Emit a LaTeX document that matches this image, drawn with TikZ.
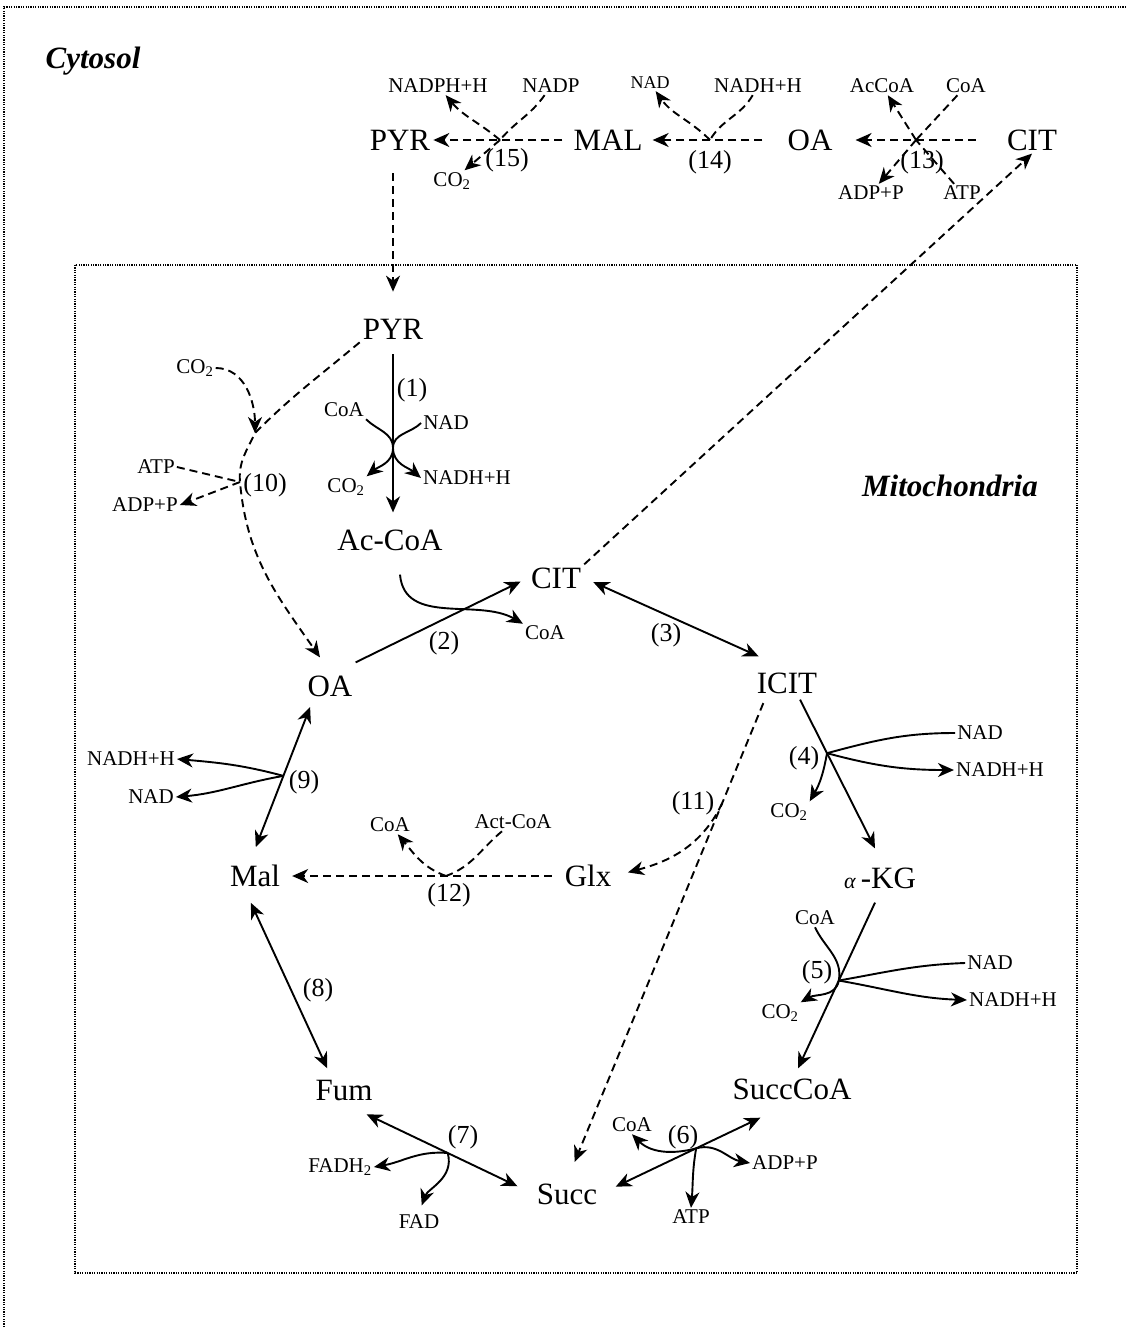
\documentclass[tikz,border=0pt]{standalone}
\usepackage{fontspec}
\setmainfont{Liberation Serif}
\usetikzlibrary{arrows.meta}
\newcommand{\metab}[3]{\node[met] (#1) at (#2) {#3};}
\newcommand{\cofac}[4][]{\node[cof,#1] (#2) at (#3) {#4};}
\newcommand{\rxn}[2]{\node[num] (n#1) at (#2) {(#1)};}
\begin{document}
\begin{tikzpicture}[x=1pt,y=-1pt,>={Stealth[length=16pt,width=14pt,inset=5pt]},
  met/.style={font=\fontsize{31}{31}\selectfont,inner sep=3pt},
  cof/.style={font=\fontsize{21}{21}\selectfont,inner sep=2pt},
  num/.style={font=\fontsize{26}{26}\selectfont,inner sep=1pt},
  ttl/.style={font=\fontsize{31}{31}\selectfont\bfseries\itshape,inner sep=0pt},
  sol/.style={line width=1.9pt},
  dsh/.style={line width=1.9pt,dash pattern=on 8pt off 5pt},
  box/.style={line width=1.2pt,dash pattern=on 1.2pt off 1.2pt}]
\useasboundingbox (0,0) rectangle (1127,1327);
\draw[box] (4,1327) -- (4,7) -- (1127,7);
\draw[box] (75,265) rectangle (1077,1273);
\node[ttl] (cyto) at (93,61) {Cytosol};
\node[ttl] (mito) at (950,486) {Mitochondria};
\metab{pyrc}{400,140}{PYR}
\metab{malc}{608,140}{MAL}
\metab{oac}{810,140}{OA}
\metab{citc}{1032,140}{CIT}
\metab{pyr}{393,329}{PYR}
\metab{acoa}{390,540}{Ac-CoA}
\metab{cit}{556,578}{CIT}
\metab{icit}{787,683}{ICIT}
\metab{akg}{880,878}{{\fontsize{22}{22}\selectfont\itshape α}\,-KG}
\metab{scoa}{792,1089}{SuccCoA}
\metab{succ}{567,1194}{Succ}
\metab{fum}{344,1090}{Fum}
\metab{mal}{255,876}{Mal}
\metab{oa}{330,686}{OA}
\metab{glx}{588,876}{Glx}
\cofac{nadph15}{438,86}{NADPH+H}
\cofac{nadp15}{551,86}{NADP}
\cofac{co215}{452,181}{CO\textsubscript{2}}
\cofac[font=\fontsize{18}{18}\selectfont]{nad14}{650,83}{NAD}
\cofac{nadh14}{758,86}{NADH+H}
\cofac{accoa13}{882,86}{AcCoA}
\cofac{coa13}{966,86}{CoA}
\cofac{adp13}{871,193}{ADP+P}
\cofac{atp13}{962,193}{ATP}
\cofac{co210}{195,368}{CO\textsubscript{2}}
\cofac{atp10}{156,467}{ATP}
\cofac{adp10}{145,505}{ADP+P}
\cofac{coa1}{344,410}{CoA}
\cofac{nad1}{446,423}{NAD}
\cofac{co21}{346,487}{CO\textsubscript{2}}
\cofac{nadh1}{467,478}{NADH+H}
\cofac{coa2}{545,633}{CoA}
\cofac{nad4}{980,733}{NAD}
\cofac{nadh4}{1000,770}{NADH+H}
\cofac{co24}{789,812}{CO\textsubscript{2}}
\cofac{coa5}{815,918}{CoA}
\cofac{nad5}{990,963}{NAD}
\cofac{nadh5}{1013,1000}{NADH+H}
\cofac{co25}{780,1013}{CO\textsubscript{2}}
\cofac{coa6}{632,1125}{CoA}
\cofac{adp6}{785,1163}{ADP+P}
\cofac{atp6}{691,1217}{ATP}
\cofac{fadh7}{340,1167}{FADH\textsubscript{2}}
\cofac{fad7}{419,1222}{FAD}
\cofac{nadh9}{131,759}{NADH+H}
\cofac{nad9}{151,797}{NAD}
\cofac{coa12}{390,825}{CoA}
\cofac{actcoa12}{513,822}{Act-CoA}
\rxn{1}{412,390}
\rxn{2}{444,643}
\rxn{3}{666,635}
\rxn{4}{804,758}
\rxn{5}{817,972}
\rxn{6}{683,1137}
\rxn{7}{463,1137}
\rxn{8}{318,990}
\rxn{9}{304,782}
\rxn{10}{265,485}
\rxn{11}{693,803}
\rxn{12}{449,895}
\rxn{13}{922,162}
\rxn{14}{710,162}
\rxn{15}{507,160}
\coordinate (j15) at (500,140);
\coordinate (j14) at (710,140);
\coordinate (j13) at (916,140);
\coordinate (j10) at (240,482);
\coordinate (c10) at (255,433);
\coordinate (j1) at (393,448);
\coordinate (j12) at (446,876);
\draw[dsh,->,shorten <=8pt] (malc.west) -- (pyrc.east);
\draw[dsh,->,shorten <=22pt,shorten >=7pt] (oac.west) -- (malc.east);
\draw[dsh,->,shorten <=28pt,shorten >=20pt] (citc.west) -- (oac.east);
\draw[dsh,->] (j15) to[out=140,in=-50] (nadph15);
\draw[dsh] (nadp15) to[out=-125,in=50] (j15);
\draw[dsh,->] (j15) -- (co215);
\draw[dsh,->] (j14) to[out=135,in=-55] (nad14);
\draw[dsh] (nadh14) to[out=-120,in=60] (j14);
\draw[dsh,->] (j13) -- (accoa13);
\draw[dsh] (coa13) -- (j13);
\draw[dsh,->] (j13) -- (adp13);
\draw[dsh] (atp13) -- (j13);
\draw[dsh,->,shorten <=20pt,shorten >=24pt] (pyr.north |- pyrc.south) -- (pyr.north);
\draw[dsh,->] (cit.north east) -- (citc.south);
\draw[sol,->,shorten <=12pt,shorten >=14pt] (pyr.south) -- (pyr.south |- acoa.north);
\draw[sol,->] (coa1.south east) to[out=-45,in=90] (j1) to[out=-90,in=40] (co21.north east);
\draw[sol,->] (nad1.west) to[out=-135,in=90] (j1) to[out=-90,in=140] (nadh1.west);
\draw[dsh,->] (pyr.south west) to[out=-140,in=45] (c10) to[out=-115,in=95] (j10)
  to[out=-85,in=125] ([shift={(-10pt,15pt)}]oa.north);
\draw[dsh,->] (co210.east) to[out=0,in=90] (c10);
\draw[dsh] (atp10.east) -- (j10);
\draw[dsh,->] (j10) -- (adp10.east);
\draw[sol,->,shorten >=8pt] ([yshift=10pt]oa.north east) -- (cit.west);
\draw[sol,->] ([xshift=10pt,yshift=-21pt]acoa.south) to[out=-85,in=150] (coa2.north west);
\draw[sol,<->,shorten <=10pt] (cit.east) -- ([xshift=5pt,yshift=13pt]icit.north west);
\draw[sol,->] ([xshift=13pt,yshift=-3pt]icit.south) -- coordinate[pos=0.36] (j4) ([xshift=-5pt,yshift=16pt]akg.north);
\draw[sol] (nad4.west) to[out=180,in=15] (j4);
\draw[sol,->] (j4) to[out=-15,in=180] (nadh4.west);
\draw[sol,->] (j4) to[out=-100,in=60] (co24.north east);
\draw[sol,->] ([xshift=-5pt,yshift=-11pt]akg.south) -- coordinate[pos=0.47] (j5) ([xshift=6pt,yshift=7pt]scoa.north);
\draw[sol,->] (coa5.south) to[out=-65,in=80] (j5) to[out=-100,in=30] (co25.north east);
\draw[sol] (nad5.west) to[out=182,in=10] (j5);
\draw[sol,->] (j5) to[out=-10,in=178] (nadh5.west);
\draw[sol,<->,shorten <=17pt,shorten >=35pt] (succ.east) -- coordinate[pos=0.5] (j6) (scoa.south);
\draw[sol,->] (j6) to[out=195,in=-45] (coa6.south);
\draw[sol,->] (j6) to[out=15,in=170] (adp6.west);
\draw[sol,->] (j6) to[out=-100,in=85] (atp6.north);
\draw[sol,<->,shorten <=25pt,shorten >=18pt] (fum.south) -- coordinate[pos=0.547] (j7) (succ.west);
\draw[sol,->] (j7) to[out=175,in=10] (fadh7.east);
\draw[sol,->,shorten >=8pt] (j7) to[out=-75,in=70] (fad7.north);
\draw[sol,<->,shorten <=14pt,shorten >=9pt] ([xshift=-10pt]mal.south) -- ([xshift=-13pt]fum.north);
\draw[sol,<->,shorten <=8pt,shorten >=16pt] ([xshift=-17pt]oa.south) -- coordinate[pos=0.47] (j9) ([xshift=-5pt]mal.north);
\draw[sol,->] (j9) to[out=165,in=-5] (nadh9.east);
\draw[sol,->] (j9) to[out=-170,in=5] (nad9.east);
\draw[dsh,->,shorten <=10pt,shorten >=9pt] (glx.west) -- (mal.east);
\draw[dsh,->] (j12) to[out=160,in=-50] (coa12);
\draw[dsh] (actcoa12) to[out=-140,in=20] (j12);
\draw[dsh,->,shorten <=7pt,shorten >=20pt] ([xshift=-21pt]icit.south) -- coordinate[pos=0.22] (j11) (succ.north);
\draw[dsh,->,shorten >=14pt] (j11) to[out=-115,in=15] (glx.east);
\end{tikzpicture}
\end{document}
